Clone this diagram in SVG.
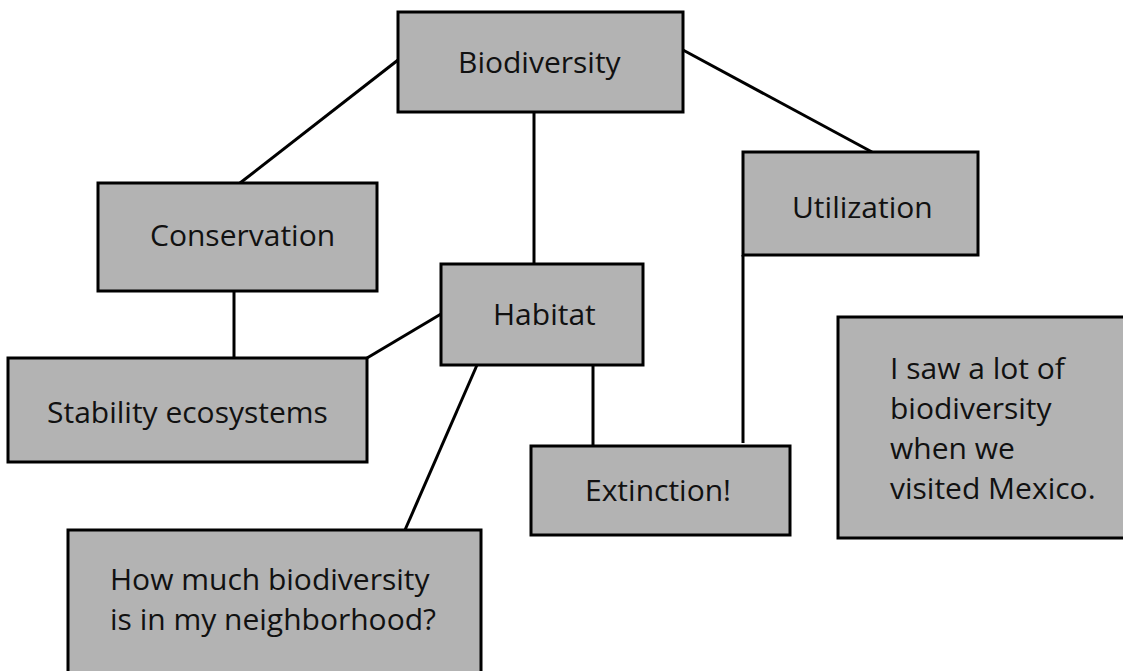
<svg xmlns="http://www.w3.org/2000/svg" width="1123" height="671" viewBox="0 0 1123 671">
<style>
.box{fill:#b3b3b3;stroke:#000;stroke-width:3}
.lbl{font-family:"Open Sans","Noto Sans",sans-serif;font-size:30px;fill:#111}
.edge{stroke:#000;stroke-width:3;fill:none}
</style>
<rect width="1123" height="671" fill="#fff"/>
<g id="connectors">
<line class="edge" x1="240" y1="183" x2="398" y2="60"/>
<line class="edge" x1="534" y1="112" x2="534" y2="264"/>
<line class="edge" x1="683" y1="50" x2="872" y2="152"/>
<line class="edge" x1="234" y1="291" x2="234" y2="358"/>
<line class="edge" x1="367" y1="358" x2="441" y2="314"/>
<line class="edge" x1="477" y1="365" x2="405" y2="530"/>
<line class="edge" x1="593" y1="365" x2="593" y2="446"/>
<line class="edge" x1="743" y1="255" x2="743" y2="443"/>
</g>
<g id="biodiversity"><rect class="box" x="398" y="12" width="285" height="100"/><text class="lbl" x="458" y="73">Biodiversity</text></g>
<g id="conservation"><rect class="box" x="98" y="183" width="279" height="108"/><text class="lbl" x="150" y="246">Conservation</text></g>
<g id="utilization"><rect class="box" x="743" y="152" width="235" height="103"/><text class="lbl" x="792" y="218">Utilization</text></g>
<g id="habitat"><rect class="box" x="441" y="264" width="202" height="101"/><text class="lbl" x="493" y="325">Habitat</text></g>
<g id="stability"><rect class="box" x="8" y="358" width="359" height="104"/><text class="lbl" x="47" y="423">Stability ecosystems</text></g>
<g id="extinction"><rect class="box" x="531" y="446" width="259" height="89"/><text class="lbl" x="585" y="501">Extinction!</text></g>
<g id="neighborhood"><rect class="box" x="68" y="530" width="413" height="170"/><text class="lbl" x="110" y="590">How much biodiversity</text><text class="lbl" x="110" y="630">is in my neighborhood?</text></g>
<g id="mexico"><rect class="box" x="838" y="317" width="300" height="221"/><text class="lbl" x="890" y="379">I saw a lot of</text><text class="lbl" x="890" y="419">biodiversity</text><text class="lbl" x="890" y="459">when we</text><text class="lbl" x="890" y="499">visited Mexico.</text></g>
</svg>
